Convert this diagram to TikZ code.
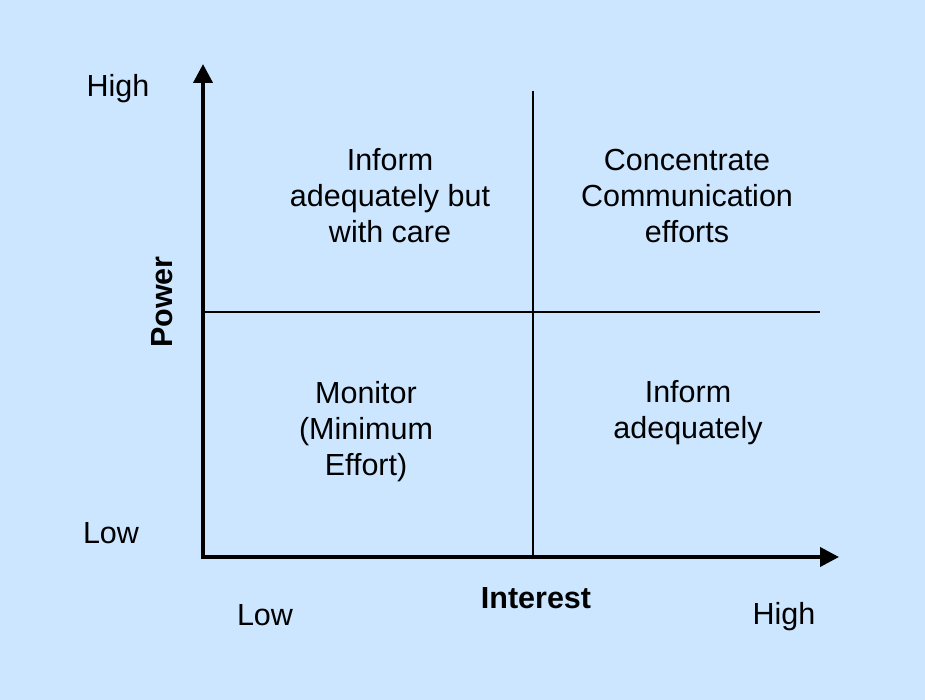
\documentclass[tikz,border=0pt]{standalone}
\usepackage{fontspec}
\setmainfont[Ligatures=NoCommon]{Liberation Sans}
\usetikzlibrary{arrows.meta}
\definecolor{paneblue}{RGB}{204,230,255}

\begin{document}
\begin{tikzpicture}[x=1pt,y=-1pt]
\tikzstyle{every node}+=[inner sep=0pt,font=\fontsize{30.5}{36}\selectfont]
\tikzstyle{quad}=[align=center]
\tikzstyle{title}=[anchor=base,font=\fontsize{30.5}{36}\selectfont\bfseries]
\tikzstyle{axis}=[black,line width=4pt,-{Triangle[length=19pt,width=19pt]}]
\tikzstyle{split}=[black,line width=2pt]
\fill [paneblue] (0,0) rectangle (925,700);
\useasboundingbox (0,0) rectangle (925,700);
% axes
\coordinate (origin) at (203,557);
\coordinate (ytop) at (203,64);
\coordinate (xend) at (839,557);
\draw [axis] (203,559) -- (ytop);
\draw [axis] (origin) -- (xend);
% grid lines
\coordinate (midtop) at (533,91);
\coordinate (midbot) at (533,557);
\coordinate (leftmid) at (203,312);
\coordinate (rightmid) at (820,312);
\draw [split] (midtop) -- (midbot);
\draw [split] (leftmid) -- (rightmid);
% axis labels
\node [anchor=base] (yhigh) at (118,97) {High};
\node [anchor=base] (ylow) at (111,543) {Low};
\node [anchor=base] (xlow) at (265,625) {Low};
\node [anchor=base] (xhigh) at (784,624) {High};
\node [title] (xname) at (536,608) {Interest};
\node [title,rotate=90] (yname) at (172,302) {Power};
% quadrants
\node [quad] (careful) at (390,196) {Inform\\adequately but\\with care};
\node [quad] (focus) at (687,196) {Concentrate\\Communication\\efforts};
\node [quad] (monitor) at (366,432) {Monitor\\(Minimum\\Effort)};
\node [quad] (inform) at (688,413) {Inform\\adequately};
\end{tikzpicture}
\end{document}
